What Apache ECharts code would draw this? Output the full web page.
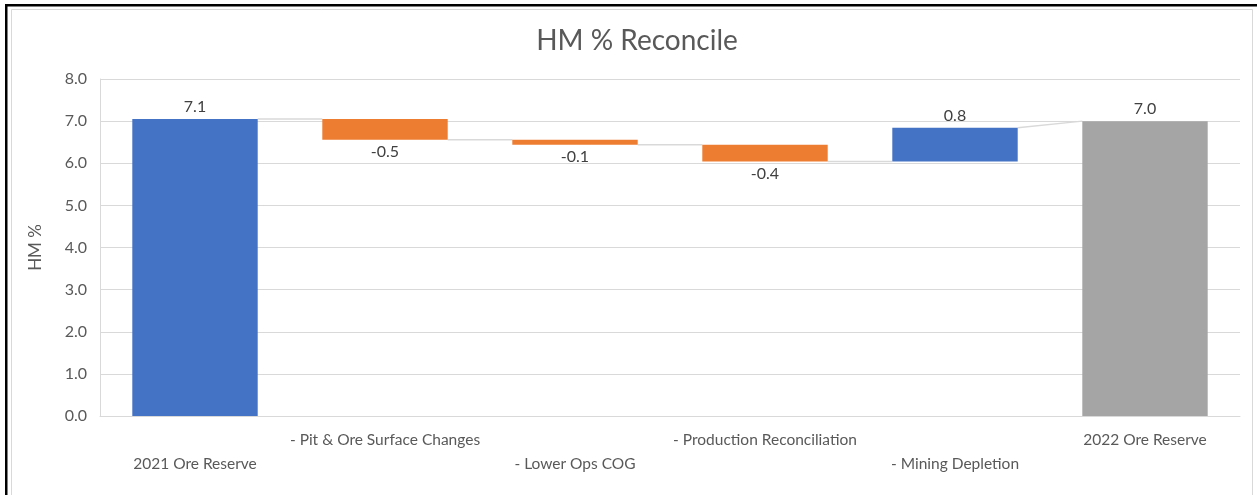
<!DOCTYPE html>
<html><head><meta charset="utf-8">
<script src="https://cdn.jsdelivr.net/npm/echarts@6/dist/echarts.min.js"></script>
<style>
html,body{margin:0;padding:0;background:#fff;}
#chart{position:absolute;left:0;top:0;width:1257px;height:495px;}
</style></head><body>
<div id="chart"></div>
<script>
const categories = ['2021 Ore Reserve', '- Pit & Ore Surface Changes', '- Lower Ops COG', '- Production Reconciliation', '- Mining Depletion', '2022 Ore Reserve'];
const changes = [7.05, -0.49, -0.12, -0.40, 0.80, 7.0];
const valueLabels = ['7.1', '-0.5', '-0.1', '-0.4', '0.8', '7.0'];
const isTotal = [false, false, false, false, false, true];
const yTicks = [0, 1, 2, 3, 4, 5, 6, 7, 8];

const BLUE = '#4472C4', ORANGE = '#ED7D31', GRAY = '#A5A5A5';
const FONT = 'Lato';

let running = 0;
const starts = [], ends = [];
changes.forEach((v, i) => {
  if (isTotal[i]) { starts.push(0); ends.push(v); running = v; }
  else { starts.push(running); running += v; ends.push(running); }
});
const baseData = changes.map((v, i) => Math.min(starts[i], ends[i]));
const barData = changes.map((v, i) => ({
  value: Math.abs(ends[i] - starts[i]),
  itemStyle: { color: isTotal[i] ? GRAY : (v >= 0 ? BLUE : ORANGE) },
  label: { position: (isTotal[i] || v >= 0) ? 'top' : 'bottom' }
}));
// connectors: from end of bar i to start level of bar i+1
const connData = [];
for (let i = 0; i < changes.length - 1; i++) {
  const nextStart = isTotal[i + 1] ? ends[i + 1] : starts[i + 1];
  connData.push([i, ends[i], nextStart]);
}
const BAR_FRAC = 0.66;

const chart = echarts.init(document.getElementById('chart'), null, { renderer: 'canvas' });
chart.setOption({
  animation: false,
  backgroundColor: '#fff',
  title: {
    text: 'HM % Reconcile', left: 632, top: 22, textAlign: 'center',
    textStyle: { fontFamily: FONT, fontSize: 28, fontWeight: 'normal', color: '#595959' }
  },
  grid: { left: 100, right: 17, top: 79, bottom: 79, containLabel: false },
  xAxis: {
    type: 'category', data: categories,
    axisLine: { show: true, lineStyle: { color: '#D9D9D9', width: 1 } },
    axisTick: { show: false },
    axisLabel: {
      interval: 0, hideOverlap: false, margin: 12,
      fontFamily: FONT, fontSize: 15.5, color: '#595959', lineHeight: 24,
      formatter: (v, idx) => idx % 2 === 0 ? '\n' + v : v
    }
  },
  yAxis: {
    type: 'value', min: yTicks[0], max: yTicks[yTicks.length - 1], interval: 1,
    name: 'HM %', nameLocation: 'middle', nameGap: 56, nameRotate: 90,
    nameTextStyle: { fontFamily: FONT, fontSize: 17, color: '#595959' },
    axisLine: { show: true, lineStyle: { color: '#D9D9D9', width: 1 } },
    axisTick: { show: false },
    splitLine: { lineStyle: { color: '#D9D9D9', width: 1 } },
    axisLabel: { margin: 13, fontFamily: FONT, fontSize: 16, color: '#595959', formatter: v => v.toFixed(1) }
  },
  graphic: [
    { type: 'rect', shape: { x: 11.5, y: 9.5, width: 1241, height: 500 }, style: { fill: 'none', stroke: '#D9D9D9', lineWidth: 1 }, silent: true },
    { type: 'rect', shape: { x: 5, y: 4, width: 1252, height: 2.5 }, style: { fill: '#000' }, silent: true },
    { type: 'rect', shape: { x: 5, y: 4, width: 2.5, height: 491 }, style: { fill: '#000' }, silent: true }
  ],
  series: [
    {
      type: 'bar', stack: 'w', data: baseData, barWidth: (BAR_FRAC * 100) + '%',
      itemStyle: { color: 'transparent' }, silent: true, label: { show: false }
    },
    {
      type: 'bar', stack: 'w', data: barData, barWidth: (BAR_FRAC * 100) + '%',
      label: {
        show: true, distance: 4, fontFamily: FONT, fontSize: 16, color: '#404040',
        formatter: p => valueLabels[p.dataIndex]
      }
    },
    {
      type: 'custom', data: connData, silent: true, z: 1,
      renderItem: (params, api) => {
        const i = api.value(0);
        const p1 = api.coord([i, api.value(1)]);
        const p2 = api.coord([i + 1, api.value(2)]);
        const band = api.size([1, 0])[0];
        return {
          type: 'line',
          shape: { x1: p1[0] + band * BAR_FRAC / 2, y1: p1[1], x2: p2[0] - band * BAR_FRAC / 2, y2: p2[1] },
          style: { stroke: '#D9D9D9', lineWidth: 1.5 }
        };
      }
    }
  ]
});
</script>
</body></html>
